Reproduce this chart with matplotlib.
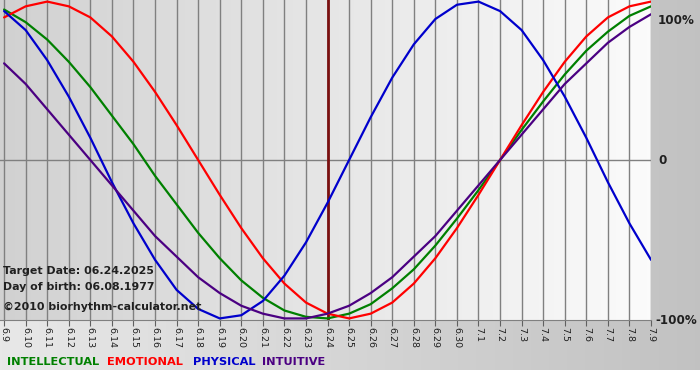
import numpy as np
import matplotlib.pyplot as plt

# days shown on the chart (6.9 .. 7.9)
days = ['6.9', '6.10', '6.11', '6.12', '6.13', '6.14', '6.15', '6.16', '6.17', '6.18',
        '6.19', '6.20', '6.21', '6.22', '6.23', '6.24', '6.25', '6.26', '6.27', '6.28',
        '6.29', '6.30', '7.1', '7.2', '7.3', '7.4', '7.5', '7.6', '7.7', '7.8', '7.9']

intellectual = [0.95, 0.87, 0.76, 0.62, 0.46, 0.28, 0.10, -0.10, -0.28, -0.46,
                -0.62, -0.76, -0.87, -0.95, -0.99, -1.00, -0.97, -0.91, -0.81, -0.69,
                -0.54, -0.37, -0.19, 0.00, 0.19, 0.37, 0.54, 0.69, 0.81, 0.91, 0.97]
emotional = [0.90, 0.97, 1.00, 0.97, 0.90, 0.78, 0.62, 0.43, 0.22, 0.00,
             -0.22, -0.43, -0.62, -0.78, -0.90, -0.97, -1.00, -0.97, -0.90, -0.78,
             -0.62, -0.43, -0.22, 0.00, 0.22, 0.43, 0.62, 0.78, 0.90, 0.97, 1.00]
physical = [0.94, 0.82, 0.63, 0.40, 0.14, -0.14, -0.40, -0.63, -0.82, -0.94,
            -1.00, -0.98, -0.89, -0.73, -0.52, -0.27, 0.00, 0.27, 0.52, 0.73,
            0.89, 0.98, 1.00, 0.94, 0.82, 0.63, 0.40, 0.14, -0.14, -0.40, -0.63]
intuitive = [0.61, 0.48, 0.32, 0.16, 0.00, -0.16, -0.32, -0.48, -0.61, -0.74,
             -0.84, -0.92, -0.97, -1.00, -1.00, -0.97, -0.92, -0.84, -0.74, -0.61,
             -0.48, -0.32, -0.16, 0.00, 0.16, 0.32, 0.48, 0.61, 0.74, 0.84, 0.92]

target_day = '6.24'
series = [('INTELLECTUAL', intellectual, '#008000'),
          ('EMOTIONAL', emotional, '#ff0000'),
          ('PHYSICAL', physical, '#0000cc'),
          ('INTUITIVE', intuitive, '#4b0082')]

W, H = 700, 380
fig = plt.figure(figsize=(W / 100, H / 100), dpi=100)
fig.patch.set_facecolor('white')

# grey background of the whole card
bg = fig.add_axes([0, 10 / H, 1, 370 / H])
grad = np.linspace(0.91, 0.76, 256).reshape(1, -1)
bg.imshow(np.dstack([grad] * 3), aspect='auto', extent=[0, 1, 0, 1])
bg.set_axis_off()

# plot area
ax = fig.add_axes([0, 60 / H, 651 / W, 320 / H])
x = np.arange(len(days))
x0 = -0.19
ax.set_xlim(x0, len(days) - 1)
ax.set_ylim(-1.01, 1.01)
pg = np.linspace(0.82, 0.985, 256).reshape(1, -1)
ax.imshow(np.dstack([pg] * 3), aspect='auto', extent=[x0, len(days) - 1, -1.01, 1.01], zorder=0)

for xi in x:
    ax.axvline(xi, color='#808080', lw=1, zorder=1)
ax.axhline(0, color='#808080', lw=1, zorder=1)
ax.axvline(days.index(target_day), color='#7a1010', lw=2, zorder=2)

for name, vals, col in series:
    ax.plot(x, vals, color=col, lw=1.6, zorder=3, solid_capstyle='round', solid_joinstyle='round')

ax.set_xticks(x)
ax.set_xticklabels(days, rotation=-90, fontsize=6.8, color='#202020')
ax.set_yticks([])
ax.tick_params(axis='x', length=4, color='#606060', pad=1)
for s in ax.spines.values():
    s.set_visible(False)
ax.spines['bottom'].set_visible(True)
ax.spines['bottom'].set_color('#808080')

info = ['Target Date: 06.24.2025', 'Day of birth: 06.08.1977', '©2010 biorhythm-calculator.net']
for t, yy in zip(info, [271, 287, 307]):
    fig.text(3 / W, 1 - yy / H, t, fontsize=7.9, fontweight='bold', color='#202020', va='center')

# right-hand percentage labels
for lab, yy, xx in [('100%', 20, 658), ('0', 161, 658), ('-100%', 321, 655)]:
    fig.text(xx / W, 1 - yy / H, lab, fontsize=8.6, fontweight='bold', color='#202020', va='center')

# legend line at the bottom
lx = [7, 107, 193, 262]
for (name, vals, col), xx in zip(series, lx):
    fig.text(xx / W, 1 - 362 / H, name, fontsize=8.2, fontweight='bold', color=col, va='center')

fig.savefig('out.png', dpi=100)
